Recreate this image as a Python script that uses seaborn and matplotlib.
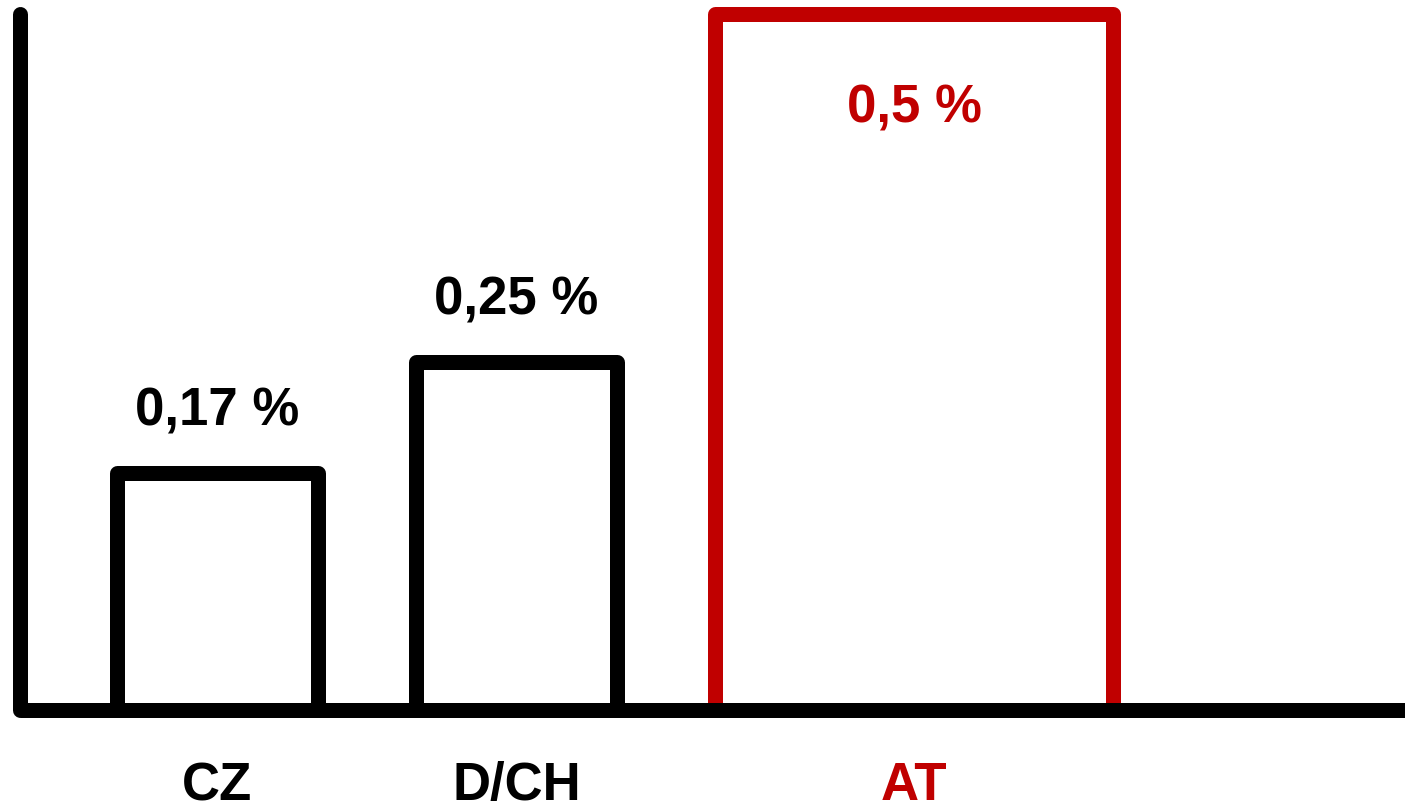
import matplotlib
matplotlib.use("Agg")
import matplotlib.pyplot as plt
import pandas as pd
import seaborn as sns

# ── data ──────────────────────────────────────────────────────────────────────
countries = ["CZ", "D/CH", "AT"]
shares = [0.17, 0.25, 0.5]
share_labels = ["0,17 %", "0,25 %", "0,5 %"]
bar_colors = ["black", "black", "#C00000"]

# ── style ─────────────────────────────────────────────────────────────────────
sns.set_theme(style="white")
plt.rcParams["font.family"] = ["Liberation Sans", "DejaVu Sans"]

LW = 10.8          # stroke width in pt (~15 px)
FS = 38            # font size for all labels
BAR_W = 0.67       # regular bar width (category units)
WIDE_W = 1.33      # the highlighted bar is twice as wide
WIDE_SHIFT = 0.33  # and shifted right to make room

df = pd.DataFrame({"country": countries, "share": shares})

fig = plt.figure(figsize=(14.05, 8.09), dpi=100)
ax = fig.add_axes([19.5 / 1405, 99 / 809, 1 - 19.5 / 1405, 696 / 809])

sns.barplot(data=df, x="country", y="share", color="white", width=BAR_W,
            linewidth=LW, edgecolor="black", saturation=1, ax=ax)

centers = []
for i, (p, c) in enumerate(zip(ax.patches, bar_colors)):
    p.set_edgecolor(c)
    p.set_facecolor("white")
    p.set_joinstyle("round")
    p.set_clip_on(False)
    if i == len(countries) - 1:
        cx = p.get_x() + p.get_width() / 2 + WIDE_SHIFT
        p.set_width(WIDE_W)
        p.set_x(cx - WIDE_W / 2)
    centers.append(p.get_x() + p.get_width() / 2)

# value labels: above the small bars, inside the tallest one
top = max(shares)
for cx, v, lab, c in zip(centers, shares, share_labels, bar_colors):
    dy = -78 if v == top else 34.5
    ax.annotate(lab, (cx, v), xytext=(0, dy), textcoords="offset points",
                ha="center", va="baseline", fontsize=FS, fontweight="bold",
                color=c, annotation_clip=False)

ax.set_xlim(-0.662, 3.971)
ax.set_ylim(0, 0.5)
ax.set_xticks(centers, countries)
ax.set_yticks([])
ax.tick_params(axis="x", length=0, pad=37, labelsize=FS)
for t, c in zip(ax.get_xticklabels(), bar_colors):
    t.set_fontweight("bold")
    t.set_color(c)
ax.set_xlabel("")
ax.set_ylabel("")

sns.despine(ax=ax)
for side in ("left", "bottom"):
    ax.spines[side].set_linewidth(LW)
    ax.spines[side].set_color("black")
    ax.spines[side].set_zorder(3)
ax.spines["left"].set_capstyle("round")
ax.spines["bottom"].set_capstyle("butt")

fig.savefig("out.png", dpi=100)
